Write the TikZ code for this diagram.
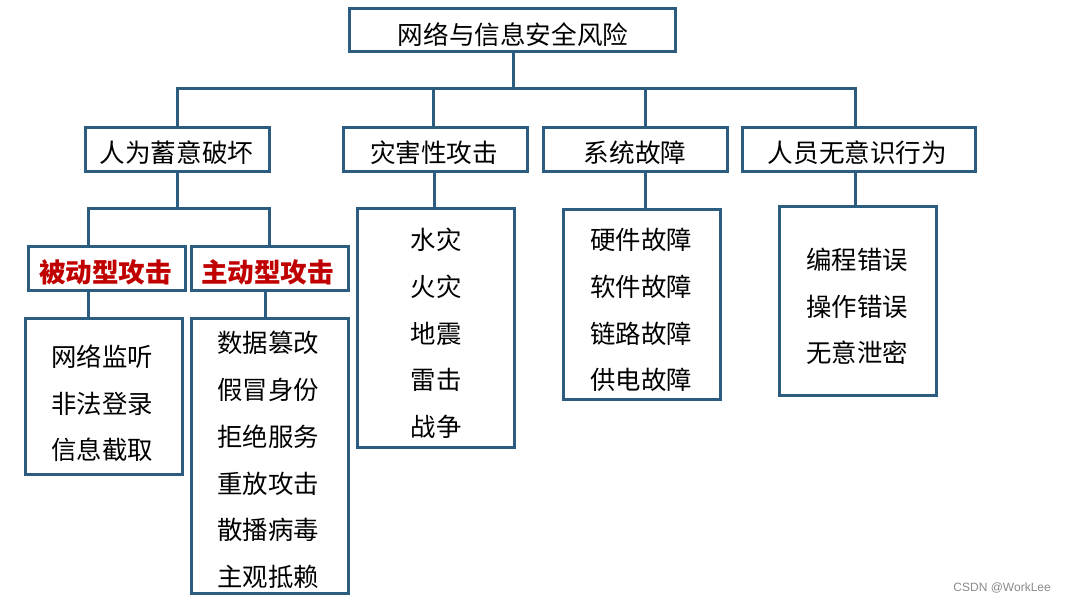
\documentclass[tikz,border=0pt]{standalone}
\usepackage{fontspec}
\setmainfont{Liberation Sans}
\newfontfamily\cjk{Noto Sans CJK SC}
\definecolor{lineblue}{HTML}{2C5D80}
\definecolor{redtxt}{HTML}{C00000}
\definecolor{wmgray}{HTML}{8A8A8A}
\begin{document}
\begin{tikzpicture}[x=1pt,y=-1pt,
  box/.style={draw=lineblue, line width=3pt, fill=white, inner sep=0pt},
  txt/.style={font=\cjk\fontsize{25.6}{25.6}\selectfont, text=black, inner sep=0pt, align=center},
  redt/.style={font=\cjk\bfseries\fontsize{26.6}{26.6}\selectfont, text=redtxt, inner sep=0pt},
  leaft/.style={font=\cjk\fontsize{25.4}{46.7}\selectfont, text=black, inner sep=0pt, align=center},
  conn/.style={draw=lineblue, line width=3pt, line join=miter}]
\useasboundingbox (0,0) rectangle (1066,601);
\fill[white] (0,0) rectangle (1066,601);

% connector junctions
\coordinate (j0) at (513,89);
\coordinate (j1) at (177,89);
\coordinate (j2) at (433,89);
\coordinate (j3) at (645,89);
\coordinate (j4) at (855,89);
\coordinate (k0) at (177,209);
\coordinate (k1) at (88,209);
\coordinate (k2) at (269,209);
\coordinate (m1) at (88,300);
\coordinate (m2) at (265,300);
\coordinate (m3) at (434,190);
\coordinate (m4) at (645,190);
\coordinate (m5) at (855,190);

% boxes
\node[box, minimum width=326pt, minimum height=43pt] (top) at (512,30.5) {};
\node[box, minimum width=184pt, minimum height=44pt] (c1) at (177,150) {};
\node[box, minimum width=184pt, minimum height=44pt] (c2) at (435,149.5) {};
\node[box, minimum width=184pt, minimum height=44pt] (c3) at (635,149.5) {};
\node[box, minimum width=233pt, minimum height=44pt] (c4) at (858.5,149.5) {};
\node[box, minimum width=157pt, minimum height=44pt] (p) at (106.5,269) {};
\node[box, minimum width=157pt, minimum height=44pt] (a) at (269.5,269) {};
\node[box, minimum width=157pt, minimum height=156pt] (pl) at (103.5,397) {};
\node[box, minimum width=157pt, minimum height=274pt] (al) at (269.5,456) {};
\node[box, minimum width=157pt, minimum height=239pt] (dl) at (435.5,328.5) {};
\node[box, minimum width=157pt, minimum height=190pt] (sl) at (641.5,305) {};
\node[box, minimum width=157pt, minimum height=189pt] (hl) at (857.5,301.5) {};

% connectors
\draw[conn] (top.south -| j0) -- (j0);
\draw[conn] (j1 |- c1.north) -- (j1) -- (j4) -- (j4 |- c4.north);
\draw[conn] (j2) -- (j2 |- c2.north);
\draw[conn] (j3) -- (j3 |- c3.north);
\draw[conn] (c1.south -| k0) -- (k0);
\draw[conn] (k1 |- p.north) -- (k1) -- (k2) -- (k2 |- a.north);
\draw[conn] (m1 |- p.south) -- (m1 |- pl.north);
\draw[conn] (m2 |- a.south) -- (m2 |- al.north);
\draw[conn] (m3 |- c2.south) -- (m3 |- dl.north);
\draw[conn] (m4 |- c3.south) -- (m4 |- sl.north);
\draw[conn] (m5 |- c4.south) -- (m5 |- hl.north);

% texts
\node[txt] (topt) at (513,34.5) {网络与信息安全风险};
\node[txt] (c1t) at (176.5,153) {人为蓄意破坏};
\node[txt] (c2t) at (434,153) {灾害性攻击};
\node[txt] (c3t) at (635,153) {系统故障};
\node[txt] (c4t) at (857.5,153) {人员无意识行为};
\node[redt] (pt) at (105.5,272) {被动型攻击};
\node[redt] (at) at (267.5,272) {主动型攻击};
\node[leaft] (plt) at (102,403.5) {网络监听\\非法登录\\信息截取};
\node[leaft] (alt) at (268,460) {数据篡改\\假冒身份\\拒绝服务\\重放攻击\\散播病毒\\主观抵赖};
\node[leaft] (dlt) at (436,333.5) {水灾\\火灾\\地震\\雷击\\战争};
\node[leaft] (slt) at (641,310) {硬件故障\\软件故障\\链路故障\\供电故障};
\node[leaft] (hlt) at (857,306.5) {编程错误\\操作错误\\无意泄密};

\node[font=\fontsize{12}{12}\selectfont, text=wmgray, inner sep=0pt, anchor=east] (wm) at (1051,588) {CSDN @WorkLee};
\end{tikzpicture}
\end{document}
